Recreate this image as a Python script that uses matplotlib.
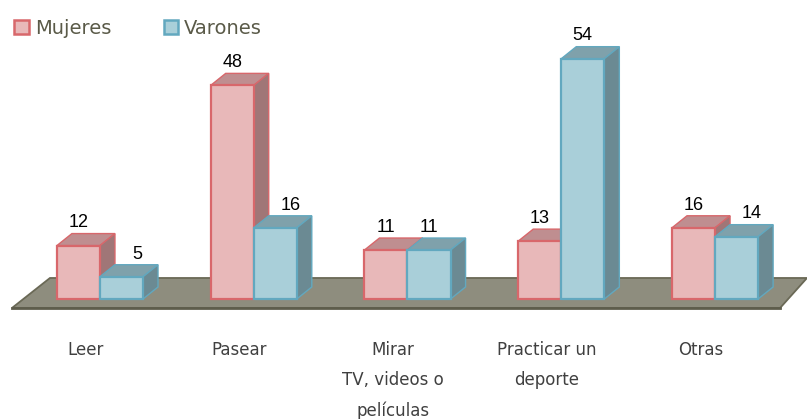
import matplotlib.pyplot as plt
from matplotlib.patches import Polygon, Patch

# datos
categorias = ["Leer", "Pasear", "Mirar\nTV, videos o\npelículas",
              "Practicar un\ndeporte", "Otras"]
mujeres = [12, 48, 11, 13, 16]
varones = [5, 16, 11, 54, 14]
series = ["Mujeres", "Varones"]

# estilos: (frente, borde, techo, lateral)
col_m = ("#E8B8B9", "#D8676B", "#BF8E90", "#A07677")
col_v = ("#A9CFD9", "#62A8BF", "#7FA1AB", "#6B8A93")

W = 0.28            # ancho de cada barra
DX, DY = 0.0976, 2.7  # profundidad 3D

fig = plt.figure(figsize=(8.07, 4.19), dpi=100)
ax = fig.add_axes([0, 0, 1, 1])
ax.set_xlim(-0.650, 4.598)
ax.set_ylim(-26.97, 67.19)
ax.axis("off")

# piso
piso = Polygon([(-0.572, -2.02), (4.423, -2.02), (4.598, 4.72), (-0.325, 4.72)],
               closed=True, facecolor="#8E8D7E", edgecolor="#6A6956", lw=1.3)
ax.add_patch(piso)
ax.plot([-0.572, 4.423], [-2.02, -2.02], color="#5E5D4C", lw=2.0)


def barra(x0, h, c):
    x1 = x0 + W
    frente = [(x0, 0), (x1, 0), (x1, h), (x0, h)]
    techo = [(x0, h), (x1, h), (x1 + DX, h + DY), (x0 + DX, h + DY)]
    lado = [(x1, 0), (x1 + DX, DY), (x1 + DX, h + DY), (x1, h)]
    ax.add_patch(Polygon(techo, facecolor=c[2], edgecolor=c[1], lw=1.0))
    ax.add_patch(Polygon(lado, facecolor=c[3], edgecolor=c[1], lw=1.0))
    ax.add_patch(Polygon(frente, facecolor=c[0], edgecolor=c[1], lw=1.6))


for i in range(len(categorias)):
    m, v = mujeres[i], varones[i]
    barra(i - W, m, col_m)
    barra(i, v, col_v)
    ax.text(i - W / 2, m + 5.1, str(m), ha="center", va="center",
            fontsize=13, family="Liberation Sans", color="black")
    sx = 0.1 if m > v else 0
    ax.text(i + W / 2 + sx, v + 5.1, str(v), ha="center", va="center",
            fontsize=13, family="Liberation Sans", color="black")
    ax.text(i - 0.095, -9.4, categorias[i], ha="center", va="top",
            fontsize=12, color="#404040", linespacing=1.85)

handles = [Patch(facecolor=col_m[0], edgecolor=col_m[1], lw=1.8),
           Patch(facecolor=col_v[0], edgecolor=col_v[1], lw=1.8)]
fig.legend(handles, series, loc="upper left", bbox_to_anchor=(-0.004, 0.997),
           frameon=False, ncol=2, fontsize=14, handlelength=0.75, handleheight=0.75,
           handletextpad=0.3, columnspacing=2.7, labelcolor="#5A5A48")

fig.savefig("out.png", dpi=100)
